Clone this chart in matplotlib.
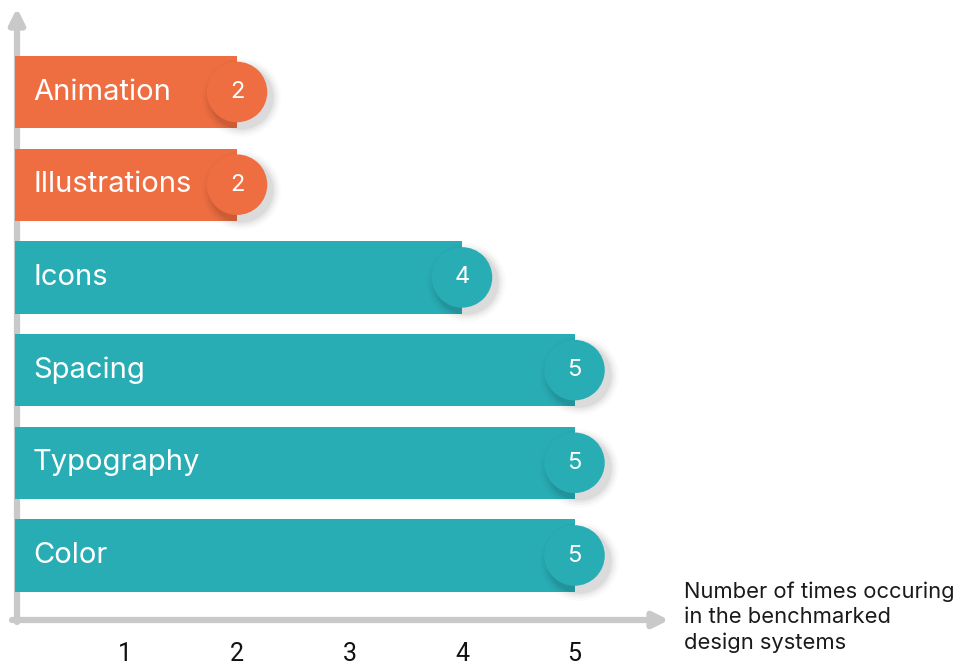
import matplotlib
matplotlib.use("Agg")
import matplotlib.pyplot as plt
from matplotlib import transforms

categories = ["Animation", "Illustrations", "Icons", "Spacing", "Typography", "Color"]
counts = [2, 2, 4, 5, 5, 5]
highlight = [True, True, False, False, False, False]
ticks = [1, 2, 3, 4, 5]
caption = "Number of times occuring\nin the benchmarked\ndesign systems"

ORANGE = "#EE6E42"
TEAL = "#29ADB5"
AXIS = "#C9C9C9"

fig = plt.figure(figsize=(9.59, 6.68), dpi=100)
ax = fig.add_axes([0, 0, 1, 1])
# 1 unit = 112.5 px in x, one row = 92.7 px in y
ax.set_xlim(-12 / 112.5, 947 / 112.5)
ax.set_ylim((668 - 92) / 92.7, -92 / 92.7)
ax.axis("off")

x0 = 3 / 112.5
rows = list(range(len(categories)))
colors = [ORANGE if h else TEAL for h in highlight]

def px(x, y):
    return ((x - 12) / 112.5, (y - 92) / 92.7)

# axes with arrows
ax_y = 620
ax.annotate("", xy=px(17, 8), xytext=px(17, 622), xycoords="data",
            arrowprops=dict(arrowstyle="-|>,head_length=0.9,head_width=0.45",
                            lw=4.5, color=AXIS, shrinkA=0, shrinkB=0), zorder=1)
ax.annotate("", xy=px(669, ax_y), xytext=px(12, ax_y), xycoords="data",
            arrowprops=dict(arrowstyle="-|>,head_length=0.9,head_width=0.45",
                            lw=4.5, color=AXIS, shrinkA=0, shrinkB=0), zorder=1)

ax.barh(rows, [c - x0 for c in counts], left=x0, height=0.78, color=colors, zorder=2)

for r, name in zip(rows, categories):
    ax.text(x0 + 0.16, r, name, color="white", fontsize=21, family="Inter",
            va="center", ha="left", zorder=3)

# soft shadows under the bubbles
for s_add, a in [(1300, 0.02), (900, 0.03), (550, 0.04), (250, 0.055)]:
    tr = transforms.offset_copy(ax.transData, fig=fig, x=4, y=-5, units="dots")
    ax.scatter(counts, rows, s=1900 + s_add, color="black", alpha=a,
               linewidths=0, transform=tr, zorder=4)

ax.scatter(counts, rows, s=1900, color=colors, linewidths=0, zorder=5)
for r, c in zip(rows, counts):
    ax.text(c, r, str(c), color="white", fontsize=17, family="Inter",
            ha="center", va="center", zorder=6)

for t in ticks:
    ax.text(t, px(0, 654)[1], str(t), fontsize=18, family="Roboto", color="#111111",
            ha="center", va="center")

ax.text(px(684, 0)[0], px(0, 582)[1], caption, fontsize=15.8, family="Inter",
        color="#1a1a1a", ha="left", va="top", linespacing=1.3)

fig.savefig("out.png", dpi=100)
